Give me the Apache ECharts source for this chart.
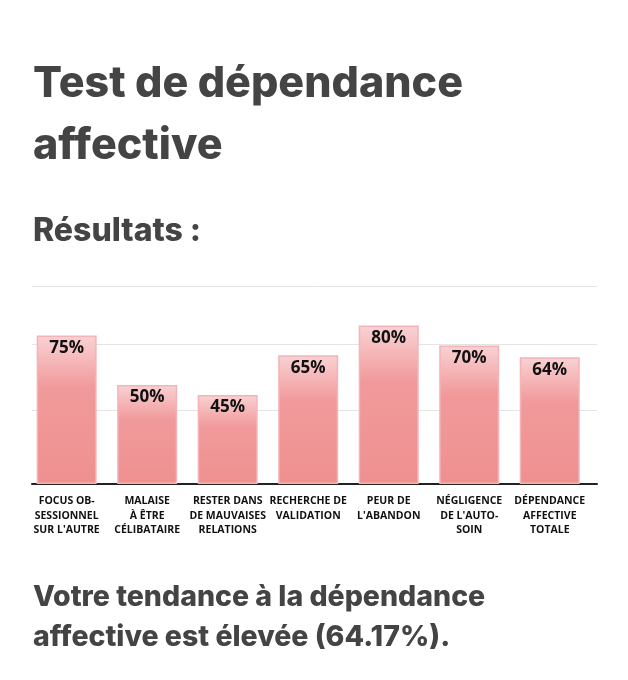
<!DOCTYPE html>
<html>
<head>
<meta charset="utf-8">
<script src="https://cdn.jsdelivr.net/npm/echarts@6/dist/echarts.min.js"></script>
<style>
  html, body { margin: 0; padding: 0; background: #fff; }
  #chart { width: 628px; height: 680px; }
</style>
</head>
<body>
<div id="chart"></div>
<script>
// données du graphique
var categories = [
  "FOCUS OB-\nSESSIONNEL\nSUR L'AUTRE",
  "MALAISE\nÀ ÊTRE\nCÉLIBATAIRE",
  "RESTER DANS\nDE MAUVAISES\nRELATIONS",
  "RECHERCHE DE\nVALIDATION",
  "PEUR DE\nL'ABANDON",
  "NÉGLIGENCE\nDE L'AUTO-\nSOIN",
  "DÉPENDANCE\nAFFECTIVE\nTOTALE"
];
var scores = [75, 50, 45, 65, 80, 70, 64];
var gridLevels = [37.2, 70.6, 100];
var totalScore = "64.17%";

var myChart = echarts.init(document.getElementById('chart'));

var titleFont = 'Inter';
var option = {
  animation: false,
  title: [
    {
      text: 'Test de dépendance\naffective',
      left: 28, top: 48,
      textStyle: { fontFamily: titleFont, fontSize: 43, fontWeight: 800, color: '#444', lineHeight: 62 }
    },
    {
      text: 'Résultats :',
      left: 28, top: 210,
      textStyle: { fontFamily: titleFont, fontSize: 32, fontWeight: 800, color: '#444', lineHeight: 32 }
    },
    {
      text: 'Votre tendance à la dépendance\naffective est élevée (' + totalScore + ').',
      left: 28, top: 572,
      textStyle: { fontFamily: titleFont, fontSize: 28.5, fontWeight: 800, color: '#444', lineHeight: 40 }
    }
  ],
  grid: [
    { left: 26.4, right: 38, top: 286, bottom: 196 },
    { left: 32, right: 31, top: 286, bottom: 196 }
  ],
  xAxis: [
    {
      type: 'category', gridIndex: 0, data: categories,
      axisLine: { show: false }, axisTick: { show: false },
      axisLabel: {
        interval: 0, margin: 10,
        fontFamily: 'Open Sans', fontSize: 10.5, fontWeight: 'bold',
        color: '#111', lineHeight: 14.5
      }
    },
    {
      type: 'category', gridIndex: 1, data: categories,
      axisLine: { show: true, lineStyle: { color: '#222', width: 2 } },
      axisTick: { show: false }, axisLabel: { show: false }
    }
  ],
  yAxis: [
    { type: 'value', gridIndex: 0, min: 0, max: 100, show: false },
    { type: 'value', gridIndex: 1, min: 0, max: 100, show: false }
  ],
  series: [
    {
      // lignes de repère
      type: 'line', xAxisIndex: 1, yAxisIndex: 1, data: [], z: 1,
      markLine: {
        silent: true, symbol: 'none', z: 1,
        label: { show: false },
        lineStyle: { color: '#e4e4e4', type: 'solid', width: 1 },
        data: gridLevels.map(function (v) { return { yAxis: v }; })
      }
    },
    {
      type: 'bar', xAxisIndex: 0, yAxisIndex: 0, data: scores, z: 10,
      barWidth: 60,
      itemStyle: {
        borderColor: '#f4b3b6', borderWidth: 1.5,
        color: new echarts.graphic.LinearGradient(0, 0, 0, 1, [
          { offset: 0, color: '#f9d2d4' },
          { offset: 0.35, color: '#f19a9b' },
          { offset: 1, color: '#ef9090' }
        ])
      },
      label: {
        show: true, position: 'insideTop', distance: 4,
        formatter: '{c}%',
        fontFamily: 'Open Sans', fontSize: 17, fontWeight: 'bold', color: '#111'
      }
    }
  ]
};

myChart.setOption(option);
</script>
</body>
</html>
